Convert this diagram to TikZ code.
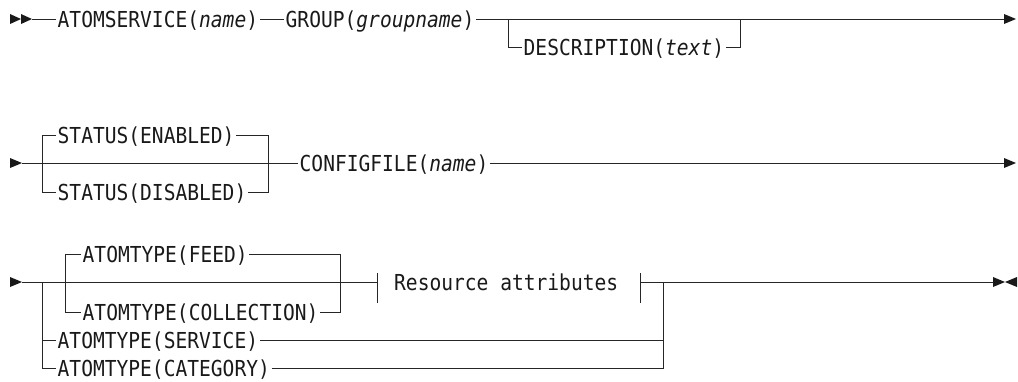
\documentclass[tikz,border=0pt]{standalone}
\usepackage{fontspec}
\setmonofont{DejaVu Sans Mono}
\newcommand{\rrtext}[1]{\scalebox{0.89}[1]{#1}}
\begin{document}
\begin{tikzpicture}[x=1pt,y=-1pt,
  rail/.style={draw=black!85, line width=1pt},
  lbl/.style={anchor=west, inner xsep=1.5pt, inner ysep=0pt, text height=16pt, text depth=0pt,
              font=\ttfamily\fontsize{22}{23}\selectfont, text=black!90},
  tipfill/.style={fill=black!90}]
\useasboundingbox (0,0) rectangle (1018,381);

% ---------- Row 1 ----------
\fill[tipfill] (10,14) -- (21,19) -- (10,24) -- cycle;
\fill[tipfill] (21,14) -- (32,19) -- (21,24) -- cycle;
\coordinate (s1) at (32,19);
\node[lbl] (atom) at (56,19) {\rrtext{ATOMSERVICE(\textit{name})}};
\node[lbl] (grp) at (284,19) {\rrtext{GROUP(\textit{groupname})}};
\coordinate (d1) at (508,19);
\coordinate (d2) at (740,19);
\node[lbl] (desc) at (522,47) {\rrtext{DESCRIPTION(\textit{text})}};
\coordinate (e1) at (1004,19);
\fill[tipfill] (1004,14) -- (1016,19) -- (1004,24) -- cycle;
\draw[rail] (s1) -- (atom.west);
\draw[rail] (atom.east) -- (grp.west);
\draw[rail] (grp.east) -- (e1);
\draw[rail] (d1) -- (d1 |- desc.west) -- (desc.west);
\draw[rail] (desc.east) -- (d2 |- desc.east) -- (d2);

% ---------- Row 2 ----------
\fill[tipfill] (10,158) -- (22,163) -- (10,168) -- cycle;
\coordinate (s2) at (22,163);
\coordinate (l2) at (42,163);
\coordinate (r2) at (268,163);
\node[lbl] (en) at (56,135) {\rrtext{STATUS(ENABLED)}};
\node[lbl] (dis) at (56,192) {\rrtext{STATUS(DISABLED)}};
\node[lbl] (cfg) at (298,163) {\rrtext{CONFIGFILE(\textit{name})}};
\coordinate (e2) at (1004,163);
\fill[tipfill] (1004,158) -- (1016,163) -- (1004,168) -- cycle;
\draw[rail] (s2) -- (cfg.west);
\draw[rail] (en.west) -- (l2 |- en.west) -- (l2 |- dis.west) -- (dis.west);
\draw[rail] (en.east) -- (r2 |- en.east) -- (r2 |- dis.east) -- (dis.east);
\draw[rail] (cfg.east) -- (e2);

% ---------- Row 3 ----------
\fill[tipfill] (10,277) -- (22,282) -- (10,287) -- cycle;
\coordinate (s3) at (22,282);
\coordinate (lo) at (42,282);
\coordinate (li) at (65,282);
\coordinate (ri) at (340,282);
\coordinate (ro) at (663,282);
\coordinate (rb1) at (377,282);
\coordinate (rb2) at (640,282);
\node[lbl] (feed) at (81,254) {\rrtext{ATOMTYPE(FEED)}};
\node[lbl] (coll) at (81,312) {\rrtext{ATOMTYPE(COLLECTION)}};
\node[lbl] (svc) at (56,340) {\rrtext{ATOMTYPE(SERVICE)}};
\node[lbl] (cat) at (56,368) {\rrtext{ATOMTYPE(CATEGORY)}};
\node[lbl, inner xsep=0pt] (res) at (394,282) {\rrtext{Resource attributes}};
\coordinate (e3) at (993,282);
\fill[tipfill] (993,277) -- (1005,282) -- (993,287) -- cycle;
\fill[tipfill] (1017,277) -- (1005,282) -- (1017,287) -- cycle;

\draw[rail] (s3) -- (rb1);
\draw[rail] (rb1) ++(0,-9) -- ++(0,30);
\draw[rail] (rb2) ++(0,-9) -- ++(0,30);
\draw[rail] (rb2) -- (e3);
\draw[rail] (feed.west) -- (li |- feed.west) -- (li |- coll.west) -- (coll.west);
\draw[rail] (feed.east) -- (ri |- feed.east) -- (ri |- coll.east) -- (coll.east);
\draw[rail] (lo) -- (lo |- cat.west) -- (cat.west);
\draw[rail] (lo |- svc.west) -- (svc.west);
\draw[rail] (svc.east) -- (ro |- svc.east);
\draw[rail] (cat.east) -- (ro |- cat.east) -- (ro);
\end{tikzpicture}
\end{document}
